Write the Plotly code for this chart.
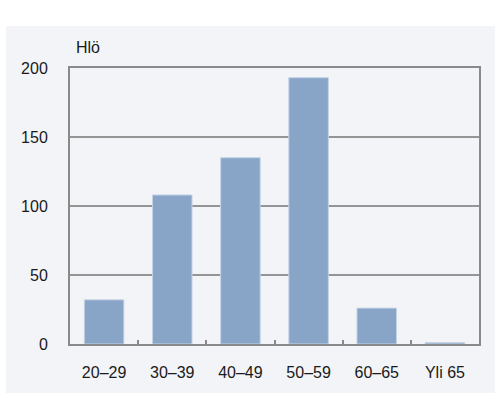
import plotly.graph_objects as go

# Age groups and head counts
age_groups = ["20–29", "30–39", "40–49", "50–59", "60–65", "Yli 65"]
counts = [32, 108, 135, 193, 26, 1]
y_ticks = [0, 50, 100, 150, 200]
y_unit = "Hlö"

W, H = 495, 394
L, R, T, B = 70, 16, 68, 50
pw, ph = W - L - R, H - T - B

panel = "#f2f4f8"
axis_grey = "#8a8a8a"
font = dict(family="Liberation Sans, Arial, sans-serif", size=16, color="#1a1a1a")

fig = go.Figure(
    go.Bar(
        x=age_groups,
        y=counts,
        marker=dict(color="#88a5c8", line=dict(color="#c6d3e6", width=1)),
        width=0.58,
        hoverinfo="x+y",
    )
)

# Light panel behind the chart (white strip on the left and top)
fig.add_shape(
    type="rect", xref="paper", yref="paper", layer="below",
    x0=(6 - L) / pw, x1=(W - L) / pw,
    y0=-(393 - T - ph) / ph, y1=(H - T - 8) / ph,
    fillcolor=panel, line=dict(width=0),
)

fig.add_annotation(
    text=y_unit, xref="paper", yref="paper",
    x=(74 - L) / pw, y=1 + (T - 48) / ph,
    xanchor="left", yanchor="middle", showarrow=False, font=font,
)

fig.update_layout(
    width=W, height=H,
    margin=dict(l=L, r=R, t=T, b=B),
    paper_bgcolor="white",
    plot_bgcolor="rgba(0,0,0,0)",
    font=font,
    showlegend=False,
    bargap=0.42,
)

fig.update_xaxes(
    type="category",
    showline=True, linecolor=axis_grey, linewidth=2, mirror=True,
    ticks="inside", tickson="boundaries", ticklen=4, tickcolor=axis_grey, tickwidth=1.5,
    showgrid=False, ticklabelstandoff=13,
)
fig.update_yaxes(
    range=[0, 200], tickvals=y_ticks,
    showline=True, linecolor=axis_grey, linewidth=2, mirror=True,
    showgrid=True, gridcolor="#959595", gridwidth=1.5,
    zeroline=False, ticks="", ticklabelstandoff=17,
)

fig.write_html("out.html")
